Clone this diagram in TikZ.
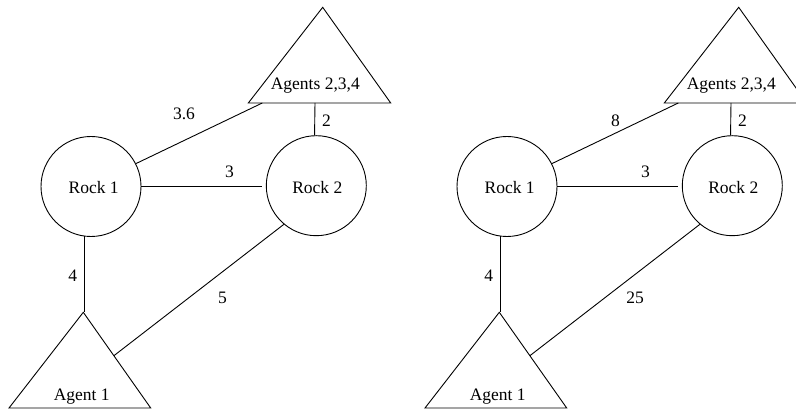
\documentclass[tikz,border=0pt]{standalone}
\usepackage{fontspec}
\setmainfont{Liberation Serif}
\begin{document}
\begin{tikzpicture}[x=1pt,y=-1pt,
  edge/.style={draw,line width=0.9pt},
  rock/.style={draw,circle,line width=0.9pt,minimum size=100pt,inner sep=0pt},
  tri/.style={draw,line width=0.9pt,line join=miter},
  lbl/.style={anchor=base,inner sep=0pt,font=\fontsize{17.5}{20}\selectfont}]
\useasboundingbox (0,0) rectangle (796,411);
\foreach \p/\dx/\la/\lax/\lay/\lb/\lbx in {L/0/3.6/184/120/5/222.5, R/416/8/199.5/126.7/25/219}{
\begin{scope}[xshift=\dx pt]
  % rocks
  \node[rock] (\p-r1) at (91,186.5) {};
  \node[rock] (\p-r2) at (316.3,185.7) {};
  % triangles
  \coordinate (\p-ta) at (322.7,7.3);
  \coordinate (\p-tl) at (248.3,103);
  \coordinate (\p-tr) at (390.7,103);
  \coordinate (\p-ba) at (83.3,312.3);
  \coordinate (\p-bl) at (9,408);
  \coordinate (\p-br) at (150.7,408);
  \draw[tri] (\p-ta) -- (\p-tl) -- (\p-tr) -- cycle;
  \draw[tri] (\p-ba) -- (\p-bl) -- (\p-br) -- cycle;
  % connector ends on the triangles
  \coordinate (\p-tb1) at (262.3,103);
  \coordinate (\p-tb2) at (315,103);
  \coordinate (\p-bs) at (113.9,355.7);
  % texts
  \node[lbl] (\p-t1) at (315.3,90) {Agents 2,3,4};
  \node[lbl] (\p-t2) at (93.7,194) {Rock 1};
  \node[lbl] (\p-t3) at (317.3,194) {Rock 2};
  \node[lbl] (\p-t4) at (81.7,401) {Agent 1};
  % connectors
  \draw[edge] (\p-r1.27) -- (\p-tb1);
  \draw[edge] (\p-tb2) -- (\p-r2.92);
  \draw[edge,shorten >=4pt] (\p-r1.east) -- (\p-r1.east -| \p-r2.west);
  \draw[edge] (\p-r1.-98) -- (\p-r1.-98 |- \p-ba);
  \draw[edge] (\p-r2.-130) -- (\p-bs);
  % connector labels
  \node[lbl] (\p-la) at (\lax,\lay) {\la};
  \node[lbl] (\p-l2) at (326.5,126.7) {2};
  \node[lbl] (\p-l3) at (229.5,177.7) {3};
  \node[lbl] (\p-l4) at (72.8,281.7) {4};
  \node[lbl] (\p-lb) at (\lbx,304) {\lb};
\end{scope}
}
\end{tikzpicture}
\end{document}
